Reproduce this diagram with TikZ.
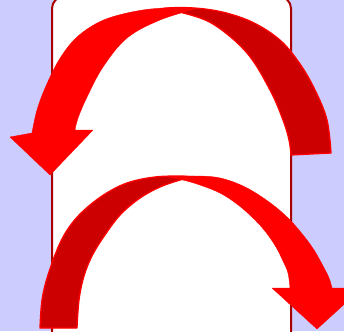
\documentclass[tikz,border=0pt]{standalone}
\usepackage{tikz}
\definecolor{lav}{RGB}{204,204,255}
\definecolor{backred}{RGB}{204,0,0}
\definecolor{frontred}{RGB}{255,0,0}
\definecolor{framered}{RGB}{170,0,0}
\tikzset{
  backpart/.style={fill=backred, draw=frontred, line width=1.3pt, line join=round},
  frontpart/.style={fill=frontred, draw=frontred, line width=0.4pt, line join=round},
  panel/.style={fill=white, draw=framered, line width=2pt, rounded corners=12pt}
}
\begin{document}
\begin{tikzpicture}[x=1pt,y=-1pt]
\useasboundingbox (0,0) rectangle (344,331);
\clip (0,0) rectangle (344,331);
\fill[lav] (0,0) rectangle (344,331);
\draw[panel] (52,-3.5) rectangle (291,345);
% ---- top arrow: back (dark) part
\path[backpart] plot[smooth, tension=0.6] coordinates {(331,153) (327,120) (315,90) (300,64) (281,41) (256,24) (230,14) (205,9) (180,7.5) (163,8.5)}
  -- plot[smooth, tension=0.6] coordinates {(163,8.5) (180,12) (213,24) (247,53) (270,90) (283,120) (289,140) (291,155)} -- cycle;
% ---- top arrow: front part with head
\path[frontpart] plot[smooth, tension=0.6] coordinates {(197,8.5) (175,7.5) (143,10) (112,17) (92,26) (74,40) (59,60) (46,86) (37,110) (32,133)}
  -- (10,137) -- (50,175) -- (93,130) -- (75,130)
  -- plot[smooth, tension=0.6] coordinates {(75,130) (78,118) (87,97) (103,67) (127,38) (160,20) (197,8.5)} -- cycle;
% ---- bottom arrow: back (dark) part
\path[backpart] plot[smooth, tension=0.6] coordinates {(40,328) (42,300) (48,275) (60,243) (73,222) (90,205) (110,191) (130,182) (155,177) (180,176) (193,177)}
  -- plot[smooth, tension=0.6] coordinates {(193,177) (180,180) (160,187) (140,198) (121,214) (107,232) (93,254) (84,276) (79,300) (77,328)} -- cycle;
% ---- bottom arrow: front part with head
\path[frontpart] plot[smooth, tension=0.6] coordinates {(168,177) (195,176) (220,178) (245,187) (269,202) (288,218) (303,235) (314,250) (323,266) (329,278) (332,288)}
  -- (362,288) -- (317,329) -- (272,288) -- (290,288)
  -- plot[smooth, tension=0.6] coordinates {(290,288) (288,273) (283,261) (276,247) (265,231) (252,217) (237,204) (220,193) (200,185) (183,180) (168,177)} -- cycle;
\end{tikzpicture}
\end{document}
